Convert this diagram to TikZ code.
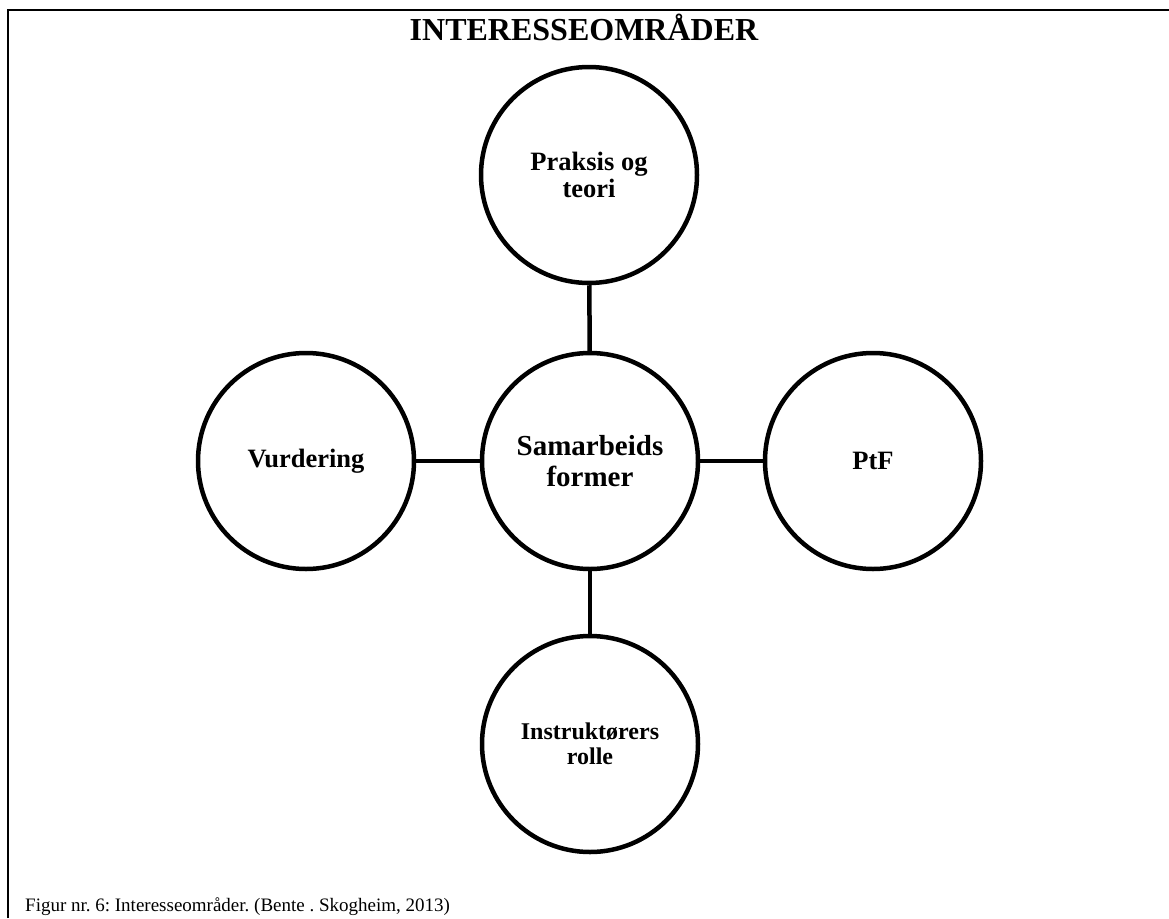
\documentclass[tikz,border=0pt]{standalone}
\usepackage{fontspec}
\setmainfont{Liberation Serif}
\begin{document}
\frenchspacing
\begin{tikzpicture}[x=1pt,y=-1pt,
  bubble/.style={circle,draw,line width=4.5pt,inner sep=0pt,minimum size=216pt,align=center,font=\bfseries},
  link/.style={line width=4.5pt}]
\useasboundingbox (0,0) rectangle (1169,918);
\fill[white] (0,0) rectangle (1169,918);
\draw[line width=2pt] (8,918) -- (8,10) -- (1169,10);
\node[anchor=base,font=\fontsize{32}{36}\selectfont\bfseries] (title) at (584,40) {INTERESSEOMRÅDER};
\node[bubble,font=\fontsize{29}{31}\selectfont\bfseries] (c) at (590,461) {Samarbeids\\former};
\node[bubble,font=\fontsize{26.5}{27}\selectfont\bfseries] (t) at (589,175) {Praksis og\\teori};
\node[bubble,font=\fontsize{26.5}{27}\selectfont\bfseries] (l) at (306,461) {Vurdering};
\node[bubble,font=\fontsize{26.5}{27}\selectfont\bfseries] (r) at (873,461) {PtF};
\node[bubble,font=\fontsize{24}{25}\selectfont\bfseries] (b) at (590,744) {Instruktørers\\rolle};
\draw[link] (t) -- (c);
\draw[link] (l) -- (c);
\draw[link] (c) -- (r);
\draw[link] (c) -- (b);
\node[anchor=base west,inner sep=0pt,font=\fontsize{19}{24}\selectfont] (cap) at (25,911) {Figur nr. 6: Interesseområder. (Bente . Skogheim, 2013)};
\end{tikzpicture}
\end{document}
